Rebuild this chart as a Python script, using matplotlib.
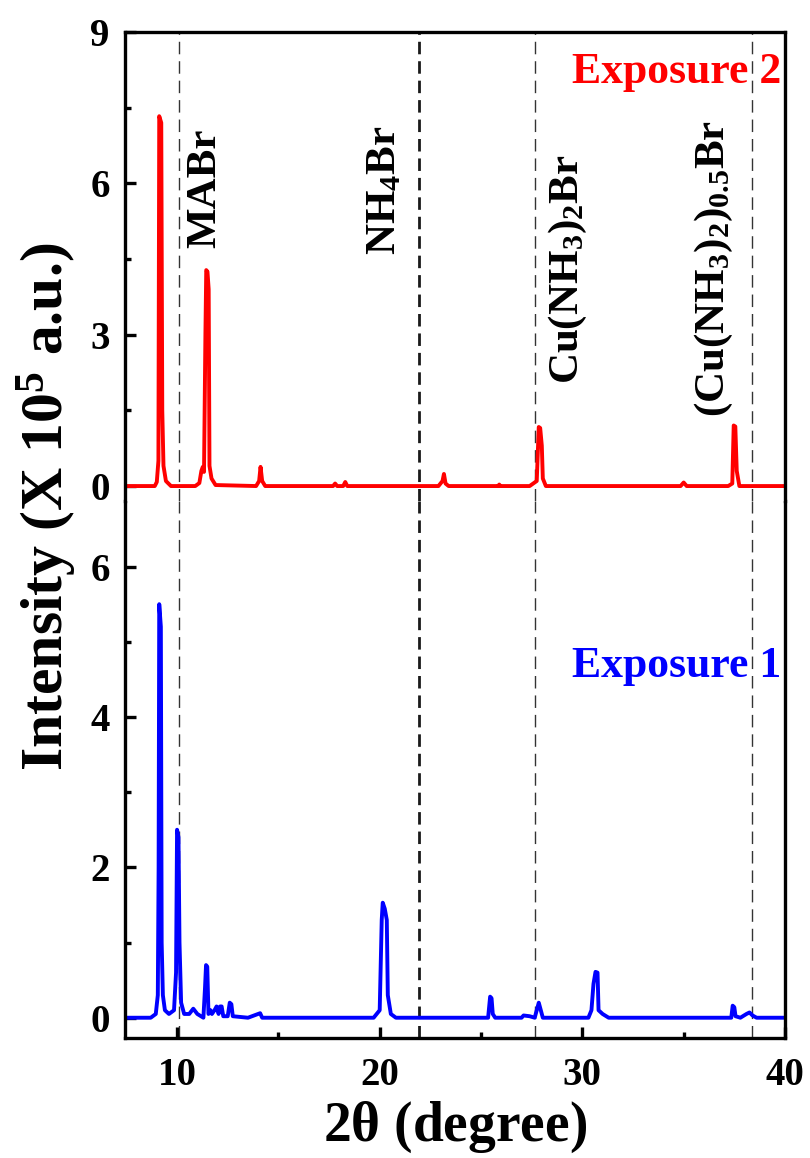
import matplotlib
matplotlib.use("Agg")
import matplotlib.pyplot as plt
from matplotlib.ticker import MultipleLocator

# XRD traces, intensity in units of 1e5 counts, read as (2theta, intensity) vertices
exposure2_pts = [
    (7.43, 0), (8.9, 0), (9.0, 0.08), (9.08, 0.5), (9.12, 7.33), (9.22, 7.2),
    (9.27, 1.5), (9.33, 0.4), (9.45, 0.1), (9.7, 0), (10.9, 0), (11.1, 0.06),
    (11.2, 0.3), (11.27, 0.38), (11.33, 0.28), (11.4, 3.03), (11.44, 4.28),
    (11.5, 4.25), (11.56, 3.9), (11.6, 0.4), (11.7, 0.15), (11.9, 0.02),
    (13.9, 0), (14.05, 0.1), (14.12, 0.38), (14.2, 0.1), (14.35, 0),
    (17.7, 0), (17.8, 0.05), (17.9, 0), (18.2, 0), (18.3, 0.08), (18.4, 0),
    (22.9, 0), (23.1, 0.1), (23.17, 0.24), (23.25, 0.05), (23.4, 0),
    (25.85, 0), (25.9, 0.03), (25.95, 0), (27.4, 0), (27.75, 0.1),
    (27.85, 1.17), (27.92, 1.15), (28.0, 0.8), (28.05, 0.15), (28.2, 0),
    (34.85, 0), (35.0, 0.07), (35.15, 0), (37.2, 0), (37.4, 0.05),
    (37.47, 1.2), (37.55, 1.18), (37.62, 0.3), (37.75, 0), (40.0, 0),
]

exposure1_pts = [
    (7.43, 0), (8.7, 0), (8.95, 0.05), (9.05, 0.3), (9.09, 2.0), (9.12, 5.5),
    (9.2, 5.2), (9.24, 1.0), (9.3, 0.3), (9.4, 0.1), (9.6, 0.05), (9.85, 0.1),
    (9.95, 0.6), (10.0, 2.5), (10.07, 2.4), (10.12, 1.0), (10.2, 0.2),
    (10.35, 0.05), (10.6, 0.05), (10.8, 0.12), (11.0, 0.05), (11.3, 0),
    (11.38, 0.4), (11.43, 0.7), (11.49, 0.68), (11.55, 0.05), (11.65, 0.1),
    (11.72, 0.05), (11.85, 0.1), (11.95, 0.15), (12.05, 0.05), (12.12, 0.15),
    (12.2, 0.15), (12.28, 0.02), (12.5, 0.02), (12.6, 0.2), (12.68, 0.18),
    (12.75, 0.02), (13.5, 0), (14.1, 0.06), (14.2, 0), (19.7, 0), (20.0, 0.1),
    (20.1, 1.3), (20.15, 1.53), (20.25, 1.45), (20.35, 1.3), (20.4, 0.3),
    (20.55, 0.05), (20.8, 0), (25.35, 0), (25.45, 0.28), (25.52, 0.26),
    (25.58, 0.05), (25.7, 0), (27.0, 0), (27.1, 0.03), (27.4, 0.02),
    (27.65, 0), (27.75, 0.1), (27.85, 0.2), (27.95, 0.1), (28.05, 0),
    (30.3, 0), (30.45, 0.1), (30.55, 0.45), (30.65, 0.61), (30.75, 0.6),
    (30.8, 0.1), (31.0, 0.05), (31.3, 0), (37.35, 0), (37.42, 0.16),
    (37.5, 0.14), (37.56, 0.02), (37.8, 0), (38.1, 0.05), (38.25, 0.07),
    (38.4, 0.03), (38.6, 0), (40.0, 0),
]

# reference phase positions (2theta) and their labels
ref_pos = [10.08, 21.92, 27.65, 38.35]
ref_names = ['MABr', 'NH$_4$Br', 'Cu(NH$_3$)$_2$Br', '(Cu(NH$_3$)$_2$)$_{0.5}$Br']
ref_label_x = [11.4, 20.3, 29.3, 36.5]
ref_label_y = [4.72, 4.58, 2.03, 1.37]

top_yticks = [0, 3, 6, 9]
bot_yticks = [0, 2, 4, 6]
xticks = [10, 20, 30, 40]

plt.rcParams.update({
    'font.family': 'Liberation Serif',
    'font.weight': 'bold',
    'axes.labelweight': 'bold',
    'mathtext.fontset': 'custom',
    'mathtext.rm': 'Liberation Serif:bold',
    'mathtext.it': 'Liberation Serif:bold',
    'mathtext.bf': 'Liberation Serif:bold',
    'mathtext.default': 'rm',
    'axes.linewidth': 2.4,
})

fig = plt.figure(figsize=(8.1, 11.58), dpi=100)
left, width = 0.1543, 0.8148
ax_bot = fig.add_axes([left, 0.1036, width, 0.5672 - 0.1036])
ax_top = fig.add_axes([left, 0.5672, width, 0.9724 - 0.5672])

x2, y2 = zip(*exposure2_pts)
x1, y1 = zip(*exposure1_pts)
ax_top.plot(x2, y2, color='#ff0000', lw=2.8, solid_joinstyle='round')
ax_bot.plot(x1, y1, color='#0000ff', lw=2.8, solid_joinstyle='round')

for ax in (ax_top, ax_bot):
    for i, p in enumerate(ref_pos):
        if i == 1:
            ax.axvline(p, color='0.1', lw=2.0, dashes=(4.5, 2.5), zorder=0)
        else:
            ax.axvline(p, color='0.2', lw=1.0, dashes=(9, 5), zorder=0)
    ax.set_xlim(7.43, 40)
    ax.tick_params(which='both', direction='in', width=2.4, labelsize=28,
                   top=False, right=False)
    ax.tick_params(axis='y', pad=11)
    ax.tick_params(axis='x', pad=14)
    ax.tick_params(which='major', length=8)
    ax.tick_params(which='minor', length=4.5)

ax_top.set_ylim(-0.3, 9)
ax_top.set_yticks(top_yticks)
ax_top.yaxis.set_minor_locator(MultipleLocator(1.5))
ax_top.tick_params(axis='x', which='both', bottom=False, labelbottom=False)
ax_top.spines['bottom'].set_visible(False)

ax_bot.set_ylim(-0.27, 6.87)
ax_bot.set_yticks(bot_yticks)
ax_bot.yaxis.set_minor_locator(MultipleLocator(1))
ax_bot.set_xticks(xticks)
ax_bot.xaxis.set_minor_locator(MultipleLocator(5))
ax_bot.spines['top'].set_visible(False)

for name, lx, ly in zip(ref_names, ref_label_x, ref_label_y):
    ax_top.text(lx, ly, name, rotation=90, ha='center', va='bottom', fontsize=31)

ax_top.text(0.995, 0.958, 'Exposure 2', color='#ff0000', fontsize=31.5,
            transform=ax_top.transAxes, ha='right', va='top')
ax_bot.text(0.995, 0.73, 'Exposure 1', color='#0000ff', fontsize=31.5,
            transform=ax_bot.transAxes, ha='right', va='top')

ax_bot.set_xlabel(r'2$\theta$ (degree)', fontsize=40, labelpad=4)
fig.text(0.058, 0.562, 'Intensity (X 10$^5$ a.u.)', rotation=90, fontsize=43,
         ha='center', va='center')

fig.savefig('out.png', dpi=100)
